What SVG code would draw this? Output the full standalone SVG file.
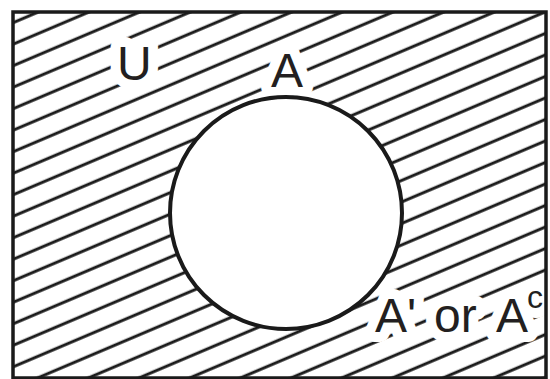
<svg xmlns="http://www.w3.org/2000/svg" width="550" height="379" viewBox="0 0 550 379">
<defs>
<pattern id="hatch" patternUnits="userSpaceOnUse" width="60" height="19.8" patternTransform="rotate(-23)">
<line x1="-5" y1="6.1" x2="65" y2="6.1" stroke="#1a1a1a" stroke-width="3"/>
</pattern>
<clipPath id="frame"><rect x="13" y="12" width="533" height="366"/></clipPath>
</defs>
<style>
.lbl{font-family:"Liberation Sans",Arial,sans-serif;font-size:48px;fill:#231f20}
.halo{font-family:"Liberation Sans",Arial,sans-serif;font-size:48px;fill:#fff;stroke:#fff;stroke-width:20;stroke-linejoin:round}
</style>
<rect width="550" height="379" fill="#fff"/>
<g id="universe">
<rect x="13" y="12" width="533" height="366" fill="url(#hatch)"/>
</g>
<g clip-path="url(#frame)">
<text class="halo" x="117" y="80">U</text>
<text class="halo" x="271" y="87">A</text>
<text class="halo" x="375" y="332">A'</text>
<text class="halo" x="434" y="332">or</text>
<text class="halo" x="496" y="332">A</text>
<text class="halo" x="527" y="308" style="font-size:32px">c</text>
</g>
<g id="setA">
<circle cx="286" cy="213" r="116" fill="#fff" stroke="#1a1a1a" stroke-width="4"/>
</g>
<g id="labels" clip-path="url(#frame)">
<text class="lbl" x="117" y="80">U</text>
<text class="lbl" x="271" y="87">A</text>
<text class="lbl" x="375" y="332">A'</text>
<text class="lbl" x="434" y="332">or</text>
<text class="lbl" x="496" y="332">A</text>
<text class="lbl" x="527" y="308" style="font-size:32px">c</text>
</g>
<g id="connectors"/>
<rect x="13" y="12" width="533" height="366" fill="none" stroke="#1a1a1a" stroke-width="3.5"/>
</svg>
